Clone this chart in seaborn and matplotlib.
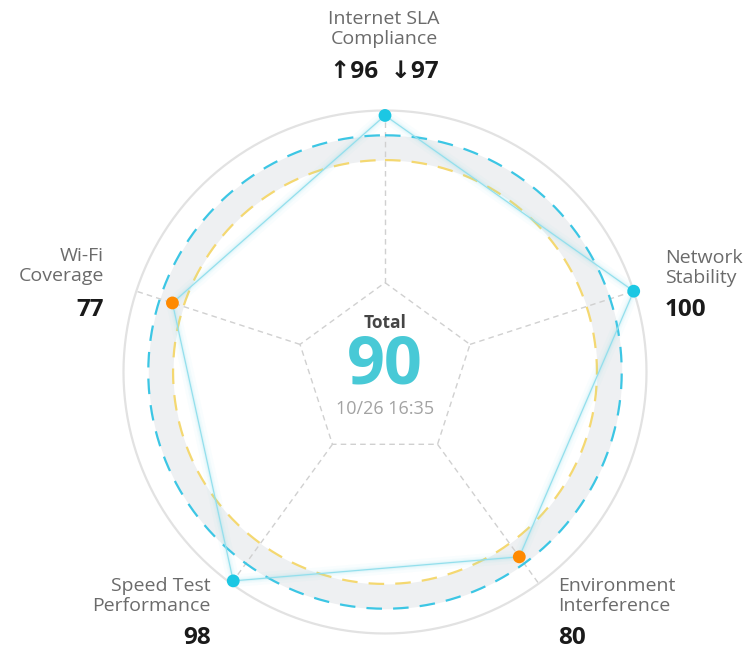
import numpy as np
import matplotlib
matplotlib.use("Agg")
import matplotlib.pyplot as plt
import seaborn as sns

# ── Data ─────────────────────────────────────────────────────
labels = ["Internet SLA\nCompliance", "Network\nStability",
          "Environment\nInterference", "Speed Test\nPerformance",
          "Wi-Fi\nCoverage"]
scores = [97, 100, 80, 98, 77]
value_text = ["↑96  ↓97", "100", "80", "98", "77"]
band_low, band_high = 70, 85
total_score = 90
timestamp = "10/26 16:35"

# ── Style ────────────────────────────────────────────────────
sns.set_theme(style="white")
plt.rcParams["font.family"] = ["Open Sans", "DejaVu Sans"]

W, H = 751, 651
fig = plt.figure(figsize=(W / 100, H / 100), dpi=100)

cx, cy, R = 385, 372, 261.5
ax = fig.add_axes([(cx - R) / W, (H - cy - R) / H, 2 * R / W, 2 * R / H],
                  projection="polar")
ax.set_theta_zero_location("N")
ax.set_theta_direction(-1)
ax.set_ylim(-5, 100)
ax.set_rorigin(-58.3)
ax.grid(False)
ax.set_xticks([])
ax.set_yticks([])
for sp in ax.spines.values():
    sp.set_visible(False)
    sp.set_edgecolor("none")   # polar 'inner' spine gets re-enabled on draw
    sp.set_linewidth(0)
ax.patch.set_alpha(0)

n = len(scores)
theta = np.linspace(0, 2 * np.pi, n, endpoint=False)
ring = np.linspace(0, 2 * np.pi, 361)

# outer circle, band, reference dashed rings
ax.plot(ring, np.full_like(ring, 100), color="#e2e2e2", lw=1.6, clip_on=False)
ax.fill_between(ring, band_low, band_high, color="#eef0f2", lw=0, zorder=1)
ax.plot(ring, np.full_like(ring, band_high), color="#3cc6e4", lw=1.6,
        dashes=(7, 5), zorder=2)
ax.plot(ring, np.full_like(ring, band_low), color="#f4d871", lw=1.6,
        dashes=(7, 5), zorder=2)

# spokes + inner pentagon
r_in = -4.2
for t in theta:
    ax.plot([t, t], [r_in, 100], color="#d0d0d0", lw=1, dashes=(4, 3),
            zorder=1.5, clip_on=False)
pent_t = np.append(theta, theta[0])
ax.plot(pent_t, np.full_like(pent_t, r_in), color="#d0d0d0", lw=1,
        dashes=(4, 3), zorder=1.5, clip_on=False)

# data polygon with soft glow
poly_r = scores + scores[:1]
for lw, a in [(9, 0.04), (5, 0.06), (2.5, 0.10)]:
    ax.plot(pent_t, poly_r, color="#6fd9ec", lw=lw, alpha=a, zorder=3,
            solid_joinstyle="round")
ax.plot(pent_t, poly_r, color="#93dfec", lw=0.9, zorder=3.5)

status = ["ok" if s >= band_high else "low" for s in scores]
sns.scatterplot(x=theta, y=scores, hue=status,
                palette={"ok": "#1cc7e3", "low": "#ff8a00"},
                s=85, linewidth=0, legend=False, ax=ax, zorder=5, clip_on=False)
ax.set_xlabel("")
ax.set_ylabel("")


def fx(x):
    return x / W


def fy(y):
    return 1 - y / H


lab_kw = dict(color="#6b6b6b", fontsize=14, linespacing=1.1, va="center")
val_kw = dict(color="#1a1a1a", fontsize=17.5, fontweight="bold", va="center")

# label anchor positions (px): x, y of label centre, y of value, alignment
layout = [(384, 29, 72, "center"),
          (665, 268, 310, "left"),
          (558, 596, 638, "left"),
          (211, 596, 638, "right"),
          (104, 266, 310, "right")]
for lab, val, (x, ly, vy, ha) in zip(labels, value_text, layout):
    fig.text(fx(x), fy(ly), lab, ha=ha, **lab_kw)
    fig.text(fx(x), fy(vy), val, ha=ha, **val_kw)

# centre
fig.text(fx(385), fy(323), "Total", ha="center", va="center",
         fontsize=12.5, fontweight="bold", color="#454545")
fig.text(fx(385), fy(366), str(total_score), ha="center", va="center",
         fontsize=48, fontweight="bold", color="#48c9d6")
fig.text(fx(385), fy(409.5), timestamp, ha="center", va="center",
         fontsize=13, color="#a3a3a3")

fig.savefig("out.png", dpi=100, facecolor="white")
